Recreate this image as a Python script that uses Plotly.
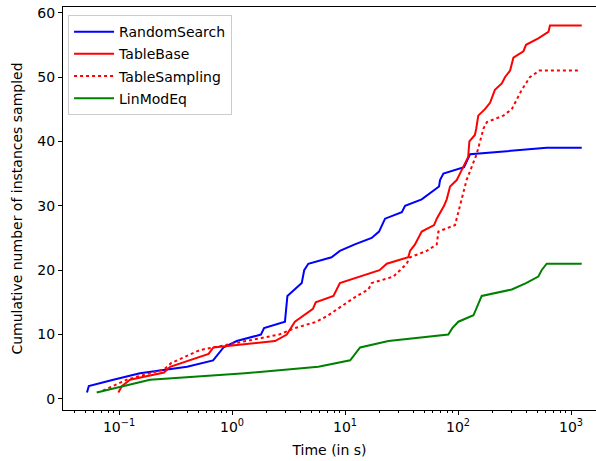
import plotly.graph_objects as go

# RandomSearch
rs_t = [0.052, 0.054, 0.089, 0.153, 0.40, 0.68, 0.84, 1.1, 1.8, 1.92, 2.94, 3.09, 4.14, 4.35, 4.73,
        7.6, 9.0, 12.2, 17.2, 20.0, 22.6, 31.8, 34, 47.7, 67.9, 69.3, 74.2, 113, 127.7, 609, 1244]
rs_n = [1, 2, 3, 4, 5, 6, 8, 9, 10, 11, 12, 16, 18, 20, 21,
        22, 23, 24, 25, 26, 28, 29, 30, 31, 33, 34, 35, 36, 38, 39, 39]

# TableBase
tb_t = [0.0986, 0.106, 0.125, 0.176, 0.25, 0.283, 0.62, 0.684, 2.4, 3.05, 3.6, 5.2, 5.5, 7.9, 9.0,
        20.2, 23.4, 36.3, 37.6, 41.6, 47.7, 61.4, 64.8, 75.2, 79.4, 85, 97.4, 104, 111, 123, 126,
        141, 145, 151, 173, 192, 212, 244, 261, 289, 309, 379, 400, 513, 631, 651, 1244]
tb_n = [1, 2, 3, 3.6, 4.1, 5, 7, 8, 9, 10, 12, 14, 15, 16, 18,
        20, 21, 22, 23, 24, 26, 27, 28, 30, 31, 33, 34, 35, 36, 37.6, 40,
        41, 42, 44, 45, 46, 48, 49, 50, 51, 53, 54, 55, 56, 57, 58, 58]

# TableSampling
ts_t = [0.072, 0.117, 0.25, 0.29, 0.52, 0.68, 2.6, 3.6, 5.6, 7.1, 9.7, 12.7, 16.1, 17.2, 26.8,
        35.1, 37.6, 52.8, 64.8, 67, 94, 104, 119, 146, 168, 180, 252, 299, 366, 434, 525, 1200]
ts_n = [1.3, 3, 4.6, 5.6, 7.6, 8, 10, 11, 12, 13, 14.6, 16, 17, 18, 19,
        21, 22, 23, 24, 26, 27, 30, 34, 38, 42, 43, 44, 45, 48, 50, 51, 51]

# LinModEq
lm_t = [0.0634, 0.113, 0.188, 1.3, 5.8, 11.1, 13.6, 24.2, 82, 89, 100.7, 137, 162, 299, 400,
        513, 549, 609, 1244]
lm_n = [1, 2, 3, 4, 5, 6, 8, 9, 10, 11, 12, 13, 16, 17, 18,
        19, 20, 21, 21]

x_tickvals = [0.1, 1, 10, 100, 1000]
x_ticktext = ["10<sup>−1</sup>", "10<sup>0</sup>", "10<sup>1</sup>", "10<sup>2</sup>", "10<sup>3</sup>"]
y_tickvals = [0, 10, 20, 30, 40, 50, 60]

minor_vals = [m * 10 ** e for e in range(-2, 4) for m in range(2, 10)]

fig = go.Figure()
series = [
    (rs_t, rs_n, "RandomSearch", dict(color="#0000ff", width=2)),
    (tb_t, tb_n, "TableBase", dict(color="#ff0000", width=2)),
    (ts_t, ts_n, "TableSampling", dict(color="#ff0000", width=2, dash="dot")),
    (lm_t, lm_n, "LinModEq", dict(color="#008000", width=2)),
]
for t, n, name, line in series:
    fig.add_trace(go.Scatter(x=t, y=n, mode="lines", name=name, legendgroup=name, line=line))

font = dict(family="DejaVu Sans", size=14, color="#000000")
fig.update_layout(
    width=596, height=461,
    margin=dict(l=63, r=0, t=7, b=51),
    paper_bgcolor="white", plot_bgcolor="white",
    font=font,
    showlegend=True,
    legend=dict(x=0.0095, y=0.980, xanchor="left", yanchor="top",
                bgcolor="rgba(255,255,255,0.8)", bordercolor="#cccccc", borderwidth=1,
                font=dict(family="DejaVu Sans", size=14, color="#000"), tracegroupgap=1,
                orientation="v", itemwidth=40),
)
fig.update_xaxes(
    type="log", range=[-1.496, 3.221], automargin=False,
    tickvals=x_tickvals, ticktext=x_ticktext, tickfont=font,
    ticks="outside", ticklen=4, tickwidth=1, tickcolor="#000",
    showline=True, linecolor="#000", linewidth=1, mirror=True,
    showgrid=False, zeroline=False, ticklabeloverflow="allow",
    minor=dict(ticks="outside", ticklen=2, tickcolor="#000", tickvals=minor_vals, showgrid=False),
    title=dict(text="Time (in s)", font=font, standoff=11),
)
fig.update_yaxes(
    range=[-1.71, 60.87], automargin=False,
    tickvals=y_tickvals, tickfont=font,
    ticks="outside", ticklen=4, tickwidth=1, tickcolor="#000",
    showline=True, linecolor="#000", linewidth=1,
    showgrid=False, zeroline=False, ticklabeloverflow="allow",
    title=dict(text="Cumulative number of instances sampled", font=font, standoff=11),
)
fig.write_html("out.html",
               config={"displayModeBar": False},
               post_script="document.body.style.margin='0';document.body.style.overflow='hidden';")
